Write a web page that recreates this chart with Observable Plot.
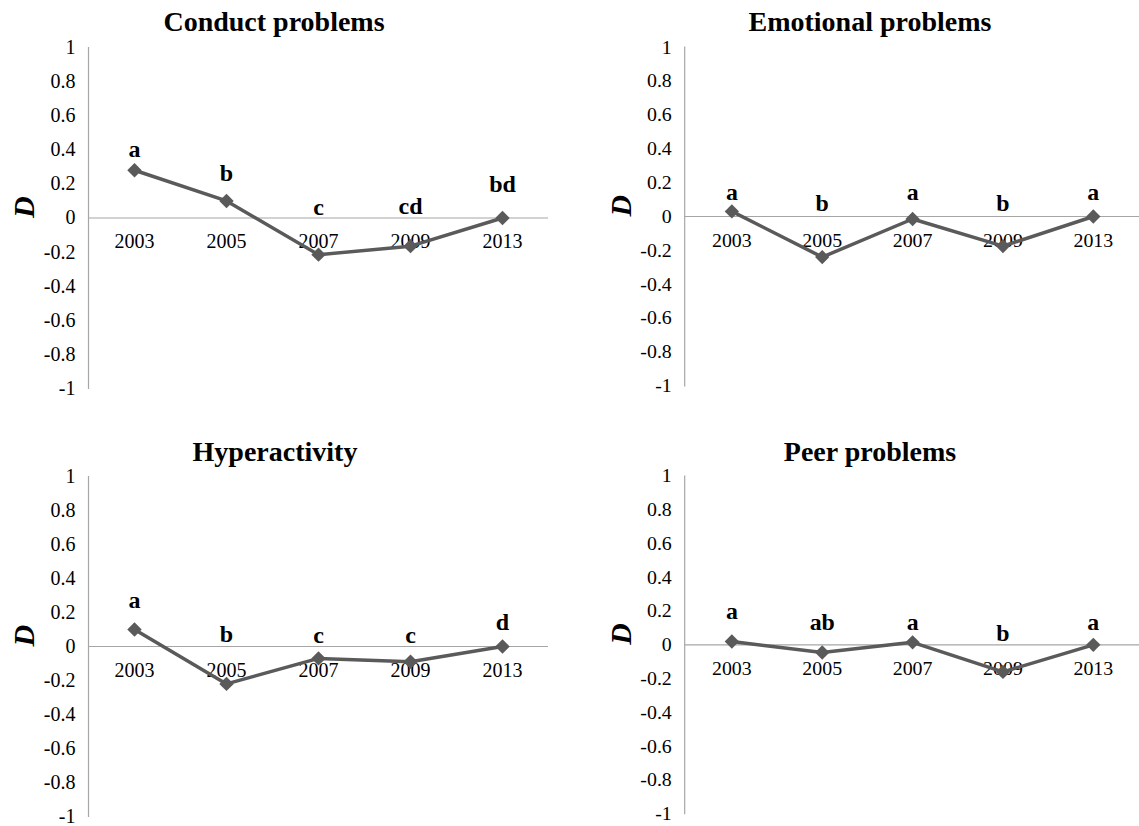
<!DOCTYPE html>
<html>
<head>
<meta charset="utf-8">
<script src="https://cdn.jsdelivr.net/npm/d3@7"></script>
<script src="https://cdn.jsdelivr.net/npm/@observablehq/plot@0.6"></script>
<style>
  html, body { margin: 0; padding: 0; background: white; overflow: hidden; }
  #chart { position: relative; width: 1139px; height: 826px; overflow: hidden; font-family: "Liberation Serif", "Times New Roman", serif; }
  .panel { position: absolute; width: 569px; height: 413px; overflow: hidden; }
  .panel svg, .panel svg text { font-family: "Liberation Serif", "Times New Roman", serif !important; }
  .title { position: absolute; width: 400px; text-align: center; font-weight: bold; font-size: 28px; line-height: 32px; color: #000; white-space: nowrap; }
</style>
</head>
<body>
<div id="chart"></div>
<script>
const years = ["2003", "2005", "2007", "2009", "2013"];
const titles = ["Conduct problems", "Emotional problems", "Hyperactivity", "Peer problems"];
const yTicks = [1, 0.8, 0.6, 0.4, 0.2, 0, -0.2, -0.4, -0.6, -0.8, -1];

const conductD = [0.28, 0.10, -0.215, -0.165, 0.0];
const emotionalD = [0.03, -0.24, -0.015, -0.175, 0.0];
const hyperactivityD = [0.10, -0.22, -0.07, -0.09, 0.0];
const peerD = [0.02, -0.045, 0.015, -0.16, 0.0];

const conductLetters = ["a", "b", "c", "cd", "bd"];
const emotionalLetters = ["a", "b", "a", "b", "a"];
const hyperactivityLetters = ["a", "b", "c", "c", "d"];
const peerLetters = ["a", "ab", "a", "b", "a"];

// height (in D units) at which each significance letter sits
const conductLetterAt = [0.40, 0.26, 0.065, 0.07, 0.20];
const emotionalLetterAt = [0.14, 0.075, 0.14, 0.075, 0.14];
const hyperactivityLetterAt = [0.27, 0.07, 0.065, 0.065, 0.14];
const peerLetterAt = [0.20, 0.135, 0.135, 0.07, 0.135];

const series = [
  {title: titles[0], values: conductD, letters: conductLetters, letterAt: conductLetterAt},
  {title: titles[1], values: emotionalD, letters: emotionalLetters, letterAt: emotionalLetterAt},
  {title: titles[2], values: hyperactivityD, letters: hyperactivityLetters, letterAt: hyperactivityLetterAt},
  {title: titles[3], values: peerD, letters: peerLetters, letterAt: peerLetterAt}
];

// layout of the 2x2 grid
const layout = [
  {left: 0,   top: 0,   ml: 88,  mr: 21, mt: 47, mb: 25, width: 569, titleX: 274, titleY: 22},
  {left: 570, top: 0,   ml: 115, mr: 0,  mt: 47, mb: 25, width: 573, titleX: 300, titleY: 22},
  {left: 0,   top: 413, ml: 88,  mr: 21, mt: 63, mb: 10, width: 569, titleX: 275, titleY: 39},
  {left: 570, top: 413, ml: 115, mr: 0,  mt: 63, mb: 10, width: 573, titleX: 300, titleY: 39}
];

const serif = "Liberation Serif";
const fmt = d => String(+d.toFixed(1));
const chart = document.getElementById("chart");
const axisGray = "#a6a6a6";
const lineGray = "#5a5a5a";

series.forEach((s, i) => {
  const L = layout[i];
  const data = years.map((yr, j) => ({year: yr, d: s.values[j], letter: s.letters[j], at: s.letterAt[j]}));
  const panel = document.createElement("div");
  panel.className = "panel";
  panel.style.left = L.left + "px";
  panel.style.top = L.top + "px";

  const plot = Plot.plot({
    width: L.width,
    height: 413,
    marginLeft: L.ml,
    marginRight: L.mr,
    marginTop: L.mt,
    marginBottom: L.mb,
    style: {fontFamily: serif, background: "white", color: "#000", overflow: "visible"},
    x: {type: "band", domain: years, padding: 0, axis: null},
    y: {domain: [-1, 1], axis: null},
    marks: [
      Plot.axisY({ticks: yTicks, tickSize: 0, tickPadding: 13, tickFormat: fmt, fontSize: 20, fontFamily: serif, label: null, fill: "#000"}),
      Plot.frame({anchor: "left", stroke: axisGray, strokeWidth: 1.2}),
      Plot.ruleY([0], {stroke: axisGray, strokeWidth: 1.2}),
      Plot.text(years, {x: d => d, y: 0, dy: 24, fontSize: 20, fontFamily: serif, fill: "#000"}),
      Plot.text(["D"], {frameAnchor: "left", dx: -64, rotate: -90, fontSize: 30, fontFamily: serif, fontWeight: "bold", fontStyle: "italic", fill: "#000"}),
      Plot.line(data, {x: "year", y: "d", stroke: lineGray, strokeWidth: 3.5}),
      Plot.dot(data, {x: "year", y: "d", symbol: "diamond2", r: 6.5, fill: lineGray, stroke: "none"}),
      Plot.text(data, {x: "year", y: "at", text: "letter", fontSize: 24, fontFamily: serif, fontWeight: "bold", fill: "#000"})
    ]
  });
  panel.appendChild(plot);
  chart.appendChild(panel);

  const t = document.createElement("div");
  t.className = "title";
  t.textContent = s.title;
  t.style.left = (L.left + L.titleX - 200) + "px";
  t.style.top = (L.top + L.titleY - 16) + "px";
  chart.appendChild(t);
});
</script>
</body>
</html>
